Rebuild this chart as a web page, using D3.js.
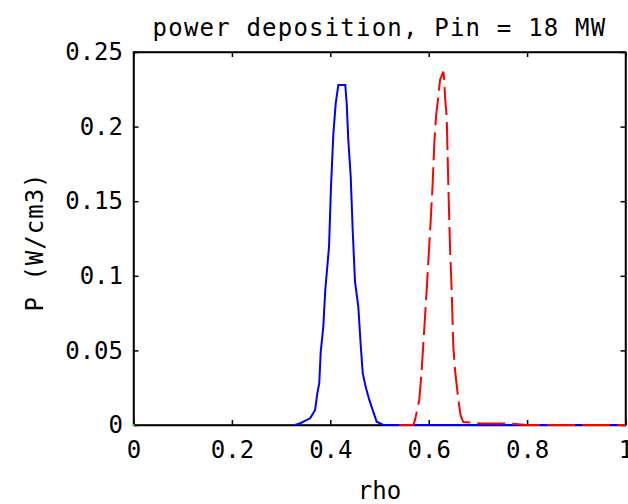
<html lang="en">
<head>
    <title>power deposition</title>
    <meta charset="utf-8">
    <style>
        body {
            margin: 0;
            background: white;
        }

        text {
            font-family: "DejaVu Sans Mono", monospace;
            font-size: 24px;
            fill: black;
        }

        .axis path, .axis line {
            stroke: black;
            stroke-width: 1.5px;
        }

        .frame {
            fill: none;
            stroke: black;
            stroke-width: 1.5px;
        }

        .curve {
            fill: none;
            stroke-width: 2px;
            stroke-linejoin: miter;
        }
    </style>
</head>
<body>
<svg id="chart" width="628" height="504"></svg>
<script src="https://d3js.org/d3.v7.min.js"></script>
<script>
    // values
    const blueRho = [0.328, 0.338, 0.359, 0.369, 0.3736, 0.3776, 0.3805, 0.3858, 0.3898, 0.3974, 0.4014, 0.4061,
        0.411, 0.4163, 0.4305, 0.4333, 0.4366, 0.4415, 0.4455, 0.4502, 0.4569, 0.4618, 0.4659, 0.4726, 0.4793,
        0.4862, 0.4943, 0.5077, 1.0];
    const blueP = [0, 0.001, 0.0045, 0.010, 0.0212, 0.028, 0.0491, 0.0659, 0.0905, 0.1195, 0.1597, 0.1944,
        0.2156, 0.2279, 0.2279, 0.2156, 0.191, 0.1664, 0.1307, 0.0961, 0.0793, 0.0536, 0.0347, 0.0246, 0.0168,
        0.010, 0.0022, 0, 0];

    const redRho = [0.54, 0.5687, 0.5722, 0.5809, 0.5858, 0.5904, 0.5959, 0.6026, 0.6081, 0.6114, 0.6148, 0.6195,
        0.623, 0.6297, 0.6317, 0.6331, 0.6366, 0.6398, 0.6433, 0.6467, 0.65, 0.6535, 0.6602, 0.665, 0.6703,
        0.708, 0.731, 0.765, 0.80, 1.0];
    const redP = [0, 0, 0.0034, 0.0168, 0.0369, 0.0615, 0.0905, 0.1285, 0.162, 0.1888, 0.2066, 0.22,
        0.2312, 0.2368, 0.2312, 0.22, 0.2066, 0.162, 0.1195, 0.0905, 0.0529, 0.0369, 0.0168, 0.0062, 0.002,
        0.001, 0.001, 0.001, 0, 0];

    const greenRho = [0];
    const greenP = [0];

    const xTicks = [0, 0.2, 0.4, 0.6, 0.8, 1];
    const xTickLabels = ["0", "0.2", "0.4", "0.6", "0.8", "1"];
    const yTicks = [0, 0.05, 0.1, 0.15, 0.2, 0.25];
    const yTickLabels = ["0", "0.05", "0.1", "0.15", "0.2", "0.25"];

    const svg = d3.select("#chart");
    const plotLeft = 133.5, plotRight = 625.5, plotTop = 52, plotBottom = 425;

    const x = d3.scaleLinear().domain([0, 1]).range([plotLeft, plotRight]);
    const y = d3.scaleLinear().domain([0, 0.25]).range([plotBottom, plotTop]);

    svg.append("g").attr("class", "axis")
        .attr("transform", `translate(0,${plotBottom})`)
        .call(d3.axisBottom(x).tickValues(xTicks).tickFormat((d, i) => xTickLabels[i])
            .tickSizeInner(-5).tickSizeOuter(0).tickPadding(16))
        .call(g => g.attr("font-size", null).attr("font-family", null));

    svg.append("g").attr("class", "axis")
        .attr("transform", `translate(0,${plotTop})`)
        .call(d3.axisTop(x).tickValues(xTicks).tickFormat("").tickSizeInner(-5).tickSizeOuter(0));

    svg.append("g").attr("class", "axis")
        .attr("transform", `translate(${plotLeft},0)`)
        .call(d3.axisLeft(y).tickValues(yTicks).tickFormat((d, i) => yTickLabels[i])
            .tickSizeInner(-5).tickSizeOuter(0).tickPadding(10.5))
        .call(g => g.attr("font-size", null).attr("font-family", null));

    svg.append("g").attr("class", "axis")
        .attr("transform", `translate(${plotRight},0)`)
        .call(d3.axisRight(y).tickValues(yTicks).tickFormat("").tickSizeInner(-5).tickSizeOuter(0));

    svg.append("rect").attr("class", "frame")
        .attr("x", plotLeft).attr("y", plotTop)
        .attr("width", plotRight - plotLeft).attr("height", plotBottom - plotTop);

    const line = d3.line().x(d => x(d[0])).y(d => y(d[1]));

    svg.append("path").attr("class", "curve")
        .datum(d3.zip(blueRho, blueP))
        .attr("stroke", "#0000ff")
        .attr("d", line);

    svg.append("path").attr("class", "curve")
        .datum(d3.zip(redRho, redP))
        .attr("stroke", "#ff0000")
        .attr("stroke-dasharray", "28,7")
        .attr("d", line);

    svg.selectAll(".green")
        .data(d3.zip(greenRho, greenP))
        .join("rect").attr("class", "green")
        .attr("x", d => x(d[0]) - 1).attr("y", d => y(d[1]) - 1)
        .attr("width", 2).attr("height", 2)
        .attr("fill", "#00ff00");

    svg.append("text")
        .attr("x", (plotLeft + plotRight) / 2).attr("y", 36)
        .attr("text-anchor", "middle")
        .attr("letter-spacing", 1.2)
        .text("power deposition, Pin = 18 MW");

    svg.append("text")
        .attr("x", (plotLeft + plotRight) / 2).attr("y", 499)
        .attr("text-anchor", "middle")
        .text("rho");

    svg.append("text")
        .attr("transform", `translate(43,242) rotate(-90)`)
        .attr("text-anchor", "middle")
        .attr("letter-spacing", 1)
        .text("P (W/cm3)");
</script>
</body>
</html>
